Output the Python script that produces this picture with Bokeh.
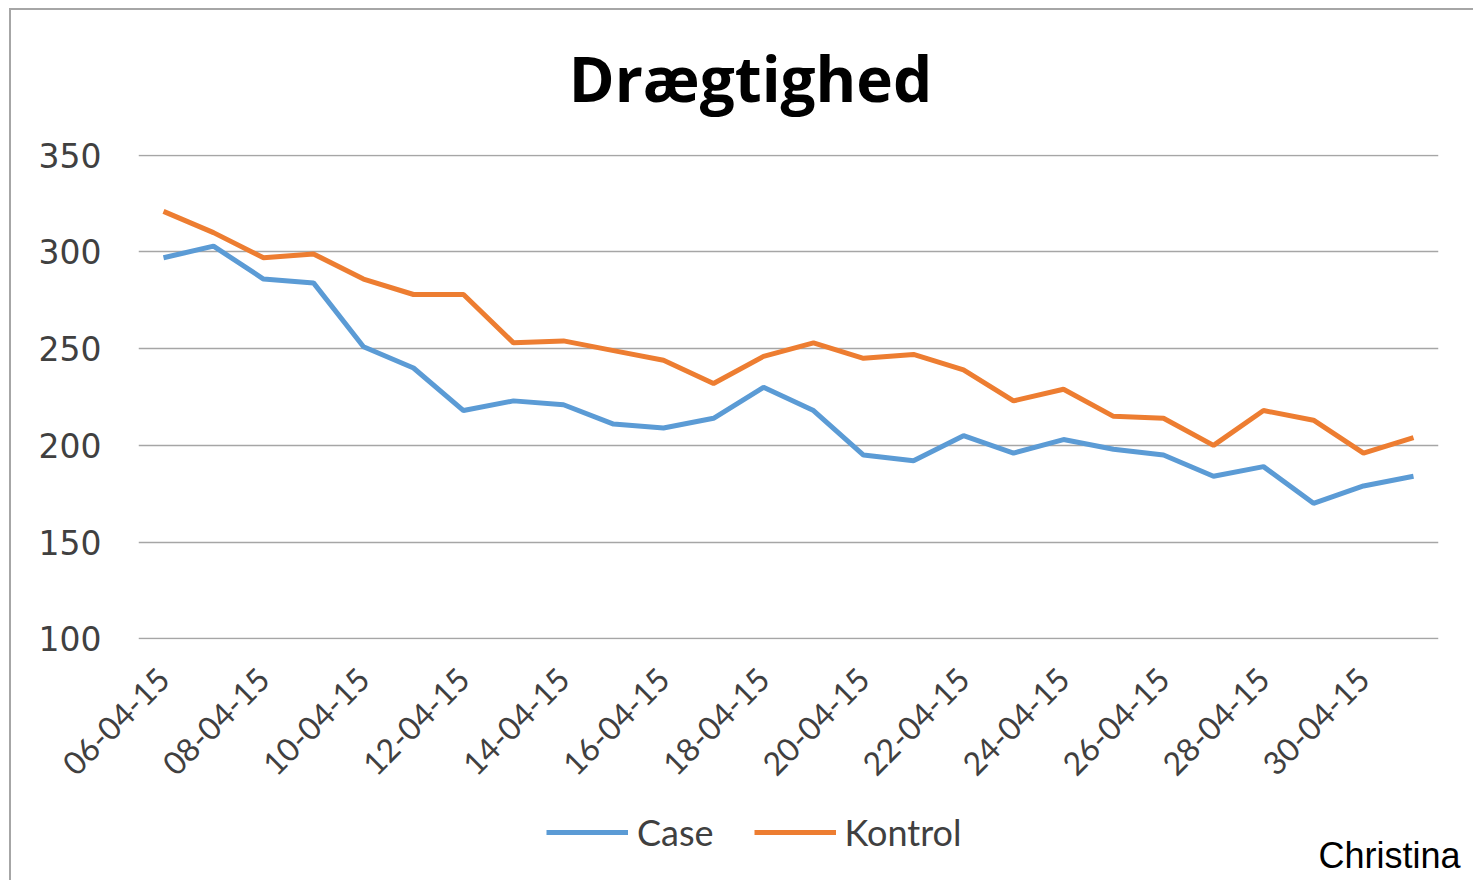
from bokeh.plotting import figure
from bokeh.models import (Range1d, FixedTicker, Legend, LegendItem, Label,
                          ColumnDataSource)
from bokeh.layouts import column
from bokeh.embed import file_html
from bokeh.resources import INLINE

dates = ["06-04-15", "07-04-15", "08-04-15", "09-04-15", "10-04-15", "11-04-15",
         "12-04-15", "13-04-15", "14-04-15", "15-04-15", "16-04-15", "17-04-15",
         "18-04-15", "19-04-15", "20-04-15", "21-04-15", "22-04-15", "23-04-15",
         "24-04-15", "25-04-15", "26-04-15", "27-04-15", "28-04-15", "29-04-15",
         "30-04-15", "01-05-15"]
case = [297, 303, 286, 284, 251, 240, 218, 223, 221, 211, 209, 214, 230,
        218, 195, 192, 205, 196, 203, 198, 195, 184, 189, 170, 179, 184]
kontrol = [321, 310, 297, 299, 286, 278, 278, 253, 254, 249, 244, 232, 246,
           253, 245, 247, 239, 223, 229, 215, 214, 200, 218, 213, 196, 204]
y_ticks = [100, 150, 200, 250, 300, 350]
title_text = "Drægtighed"
series_names = ["Case", "Kontrol"]
series_colors = ["#5B9BD5", "#ED7D31"]
author = "Christina"

xs = list(range(len(dates)))
src = ColumnDataSource(dict(x=xs, case=case, kontrol=kontrol))

W, H0, H1, H2 = 1462, 120, 680, 70


def strip(h):
    f = figure(width=W, height=h, output_backend="svg", toolbar_location=None,
               x_range=Range1d(0, 1), y_range=Range1d(0, 1),
               x_axis_location=None, y_axis_location=None, min_border=0)
    f.grid.grid_line_color = None
    f.outline_line_color = None
    f.background_fill_color = "white"
    f.border_fill_color = "white"
    return f


# top strip: title
p0 = strip(H0)
p0.add_layout(Label(x=612, y=53, x_units="screen", y_units="screen", text=title_text,
                    text_font="Open Sans", text_font_style="bold",
                    text_font_size="62px", text_color="black",
                    text_align="center", text_baseline="middle"))

# main chart
p = figure(width=W, height=H1, output_backend="svg", toolbar_location=None,
           x_range=Range1d(-0.5, len(dates) - 0.5), y_range=Range1d(99.6, 350.4))
p.min_border_left = 127
p.min_border_right = 35
p.min_border_top = 24
p.min_border_bottom = 171
p.outline_line_color = None
p.background_fill_color = "white"
p.border_fill_color = "white"

grid_color = "#a6a6a6"
p.xgrid.grid_line_color = None
p.ygrid.grid_line_color = grid_color
p.ygrid.grid_line_width = 1.5
p.ygrid.ticker = FixedTicker(ticks=y_ticks)

p.yaxis.ticker = FixedTicker(ticks=y_ticks)
p.yaxis.axis_line_color = None
p.yaxis.major_tick_line_color = None
p.yaxis.minor_tick_line_color = None
p.yaxis.major_label_standoff = 31
p.yaxis.major_label_text_font = "DejaVu Sans"
p.yaxis.major_label_text_font_size = "33px"
p.yaxis.major_label_text_color = "#404040"

p.xaxis.ticker = FixedTicker(ticks=xs[::2])
p.xaxis.major_label_overrides = {i: dates[i] for i in xs}
p.xaxis.major_label_orientation = 0.785398
p.xaxis.axis_line_color = None
p.xaxis.major_tick_line_color = None
p.xaxis.minor_tick_line_color = None
p.xaxis.major_label_standoff = 28
p.xaxis.major_label_text_font = "Lato"
p.xaxis.major_label_text_font_size = "32px"
p.xaxis.major_label_text_color = "#404040"

p.line("x", "case", source=src, line_color=series_colors[0], line_width=5)
p.line("x", "kontrol", source=src, line_color=series_colors[1], line_width=5)

# bottom strip: legend and author (series drawn out of view, only the legend shows)
p2 = strip(H2)
lr = [p2.line("x", key, source=src, line_color=c, line_width=5)
      for key, c in zip(["case", "kontrol"], series_colors)]
legend = Legend(items=[LegendItem(label=n, renderers=[r]) for n, r in zip(series_names, lr)],
                orientation="horizontal", location=(535, 26),
                glyph_width=82, glyph_height=20, label_text_font="Lato",
                label_text_font_size="36px", label_text_color="#404040",
                background_fill_alpha=0, border_line_color=None,
                spacing=40, label_standoff=9, padding=0, margin=0)
p2.add_layout(legend, "center")
p2.add_layout(Label(x=1449, y=25, x_units="screen", y_units="screen", text=author,
                    text_font="Liberation Sans", text_font_size="36px",
                    text_color="black", text_align="right", text_baseline="middle"))

layout = column(p0, p, column(p2, spacing=0), spacing=0)
layout.styles = {"margin-left": "9px", "margin-top": "8px",
                 "border-left": "2px solid #a6a6a6", "border-top": "2px solid #a6a6a6"}

open("out.html", "w").write(file_html(layout, INLINE))
